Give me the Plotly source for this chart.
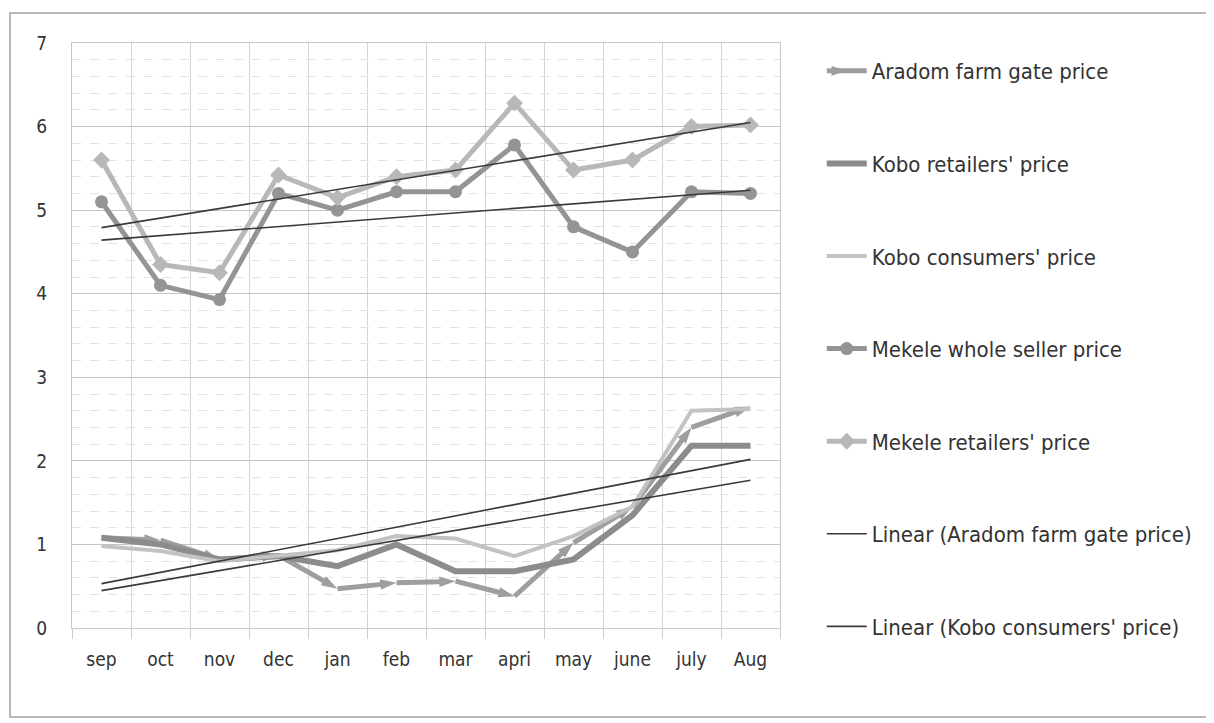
import numpy as np
import plotly.graph_objects as go

months = ["sep", "oct", "nov", "dec", "jan", "feb", "mar", "apri", "may", "june", "july", "Aug"]

aradom_farm_gate = [1.08, 1.05, 0.82, 0.87, 0.47, 0.54, 0.56, 0.38, 1.02, 1.45, 2.40, 2.65]
kobo_retailers = [1.08, 1.00, 0.82, 0.86, 0.74, 1.00, 0.68, 0.68, 0.82, 1.35, 2.18, 2.18]
kobo_consumers = [0.98, 0.92, 0.80, 0.86, 0.93, 1.10, 1.07, 0.86, 1.10, 1.45, 2.60, 2.62]
mekele_whole_seller = [5.10, 4.10, 3.93, 5.20, 5.00, 5.22, 5.22, 5.78, 4.80, 4.50, 5.22, 5.20]
mekele_retailers = [5.60, 4.35, 4.25, 5.42, 5.15, 5.40, 5.48, 6.28, 5.48, 5.60, 6.00, 6.02]

FONT = "Liberation Sans Narrow, DejaVu Sans Condensed, Lato, sans-serif"
x = list(range(len(months)))

fig = go.Figure()

def trend(vals):
    a, b = np.polyfit(x, vals, 1)
    return [a * xi + b for xi in x]

fig.add_trace(go.Scatter(
    x=x, y=aradom_farm_gate, name="Aradom farm gate price", legendgroup="g1",
    mode="lines+markers", line=dict(color="#9e9e9e", width=5),
    marker=dict(symbol="arrow", angleref="previous", size=17, color="#9e9e9e")))
fig.add_trace(go.Scatter(
    x=x, y=kobo_retailers, name="Kobo retailers' price", legendgroup="g2",
    mode="lines", line=dict(color="#8c8c8c", width=6)))
fig.add_trace(go.Scatter(
    x=x, y=kobo_consumers, name="Kobo consumers' price", legendgroup="g3",
    mode="lines", line=dict(color="#c2c2c2", width=4)))
fig.add_trace(go.Scatter(
    x=x, y=mekele_whole_seller, name="Mekele whole seller price", legendgroup="g4",
    mode="lines+markers", line=dict(color="#949494", width=5),
    marker=dict(symbol="circle", size=13, color="#949494")))
fig.add_trace(go.Scatter(
    x=x, y=mekele_retailers, name="Mekele retailers' price", legendgroup="g5",
    mode="lines+markers", line=dict(color="#b8b8b8", width=5),
    marker=dict(symbol="diamond", size=13, color="#b8b8b8")))
fig.add_trace(go.Scatter(
    x=x, y=trend(aradom_farm_gate), name="Linear (Aradom farm gate price)", legendgroup="g6",
    mode="lines", line=dict(color="#3a3a3a", width=1.6)))
fig.add_trace(go.Scatter(
    x=x, y=trend(kobo_consumers), name="Linear (Kobo consumers' price)", legendgroup="g7",
    mode="lines", line=dict(color="#3a3a3a", width=1.6)))
fig.add_trace(go.Scatter(
    x=x, y=trend(mekele_whole_seller), name="Linear (Mekele whole seller price)", showlegend=False,
    mode="lines", line=dict(color="#3a3a3a", width=1.6)))
fig.add_trace(go.Scatter(
    x=x, y=trend(mekele_retailers), name="Linear (Mekele retailers' price)", showlegend=False,
    mode="lines", line=dict(color="#3a3a3a", width=1.6)))

# page has an 8px body margin; figure coordinates below are page coords minus 8
L, R, T, B = 64, 772, 35, 620
W, H = 1206, 715

fig.update_layout(
    width=W, height=H,
    margin=dict(l=L, r=W - R, t=T, b=H - B),
    paper_bgcolor="white", plot_bgcolor="white",
    font=dict(family=FONT, size=19, color="#333333"),
    showlegend=True,
    legend=dict(x=1.059, xanchor="left", y=0.988, yanchor="top",
                traceorder="grouped", tracegroupgap=61, maxheight=700,
                font=dict(family=FONT, size=22, color="#333333"),
                bgcolor="rgba(0,0,0,0)", itemwidth=40),
    xaxis=dict(range=[-0.5, 11.5], tickmode="array", tickvals=x, ticktext=months,
               showgrid=False, zeroline=False, showline=True, linecolor="#c8c8c8",
               mirror=True, ticks="", ticklabelstandoff=14,
               tickfont=dict(family=FONT, size=19, color="#333333"),
               minor=dict(tick0=0.5, dtick=1, showgrid=True, gridcolor="#d4d4d4",
                          gridwidth=1, ticks="outside", ticklen=10, tickcolor="#cfcfcf")),
    yaxis=dict(range=[0, 7], dtick=1, showgrid=True, gridcolor="#c4c4c4", gridwidth=1,
               zeroline=False, showline=True, linecolor="#c8c8c8", mirror=True,
               ticks="", ticklabelstandoff=20,
               tickfont=dict(family=FONT, size=19, color="#333333"),
               minor=dict(dtick=0.2, showgrid=True, gridcolor="#e2e2e2", griddash="dash",
                          gridwidth=1)),
    shapes=[dict(type="rect", xref="paper", yref="paper",
                 x0=(2 - L) / (R - L), x1=(1202 - L) / (R - L),
                 y0=(B - 709) / (B - T), y1=(B - 5) / (B - T),
                 line=dict(color="#a0a0a0", width=1.5), fillcolor="rgba(0,0,0,0)",
                 layer="below")],
)

fig.write_html("out.html")
